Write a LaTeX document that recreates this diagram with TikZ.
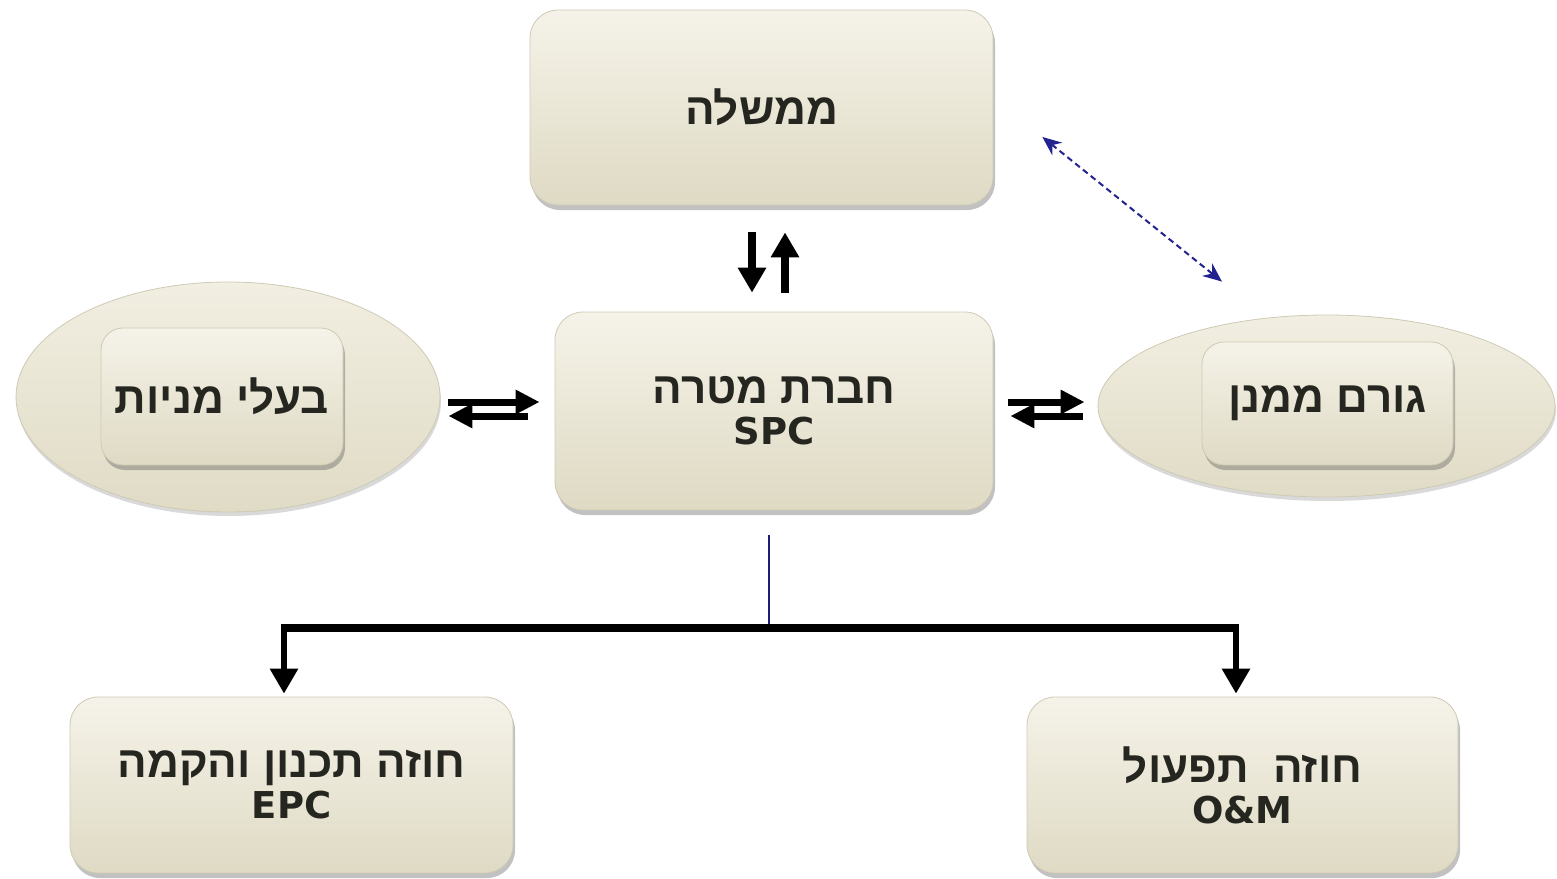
\documentclass[tikz,border=0pt]{standalone}
\usepackage{fontspec}
\setmainfont{DejaVu Sans}
\newfontfamily\hebfont[Script=Hebrew]{Liberation Sans}
\newfontfamily\latfont{DejaVu Sans}
\TeXXeTstate=1
\usetikzlibrary{arrows.meta,shadows,calc,shapes.geometric}
\newcommand\hebtxt[1]{{\hebfont\fontsize{44}{46}\selectfont\beginR #1\endR}}
\newcommand\lattxt[1]{{\latfont\fontsize{37}{42}\selectfont #1}}
\definecolor{boxtop}{HTML}{F5F3E9}
\definecolor{boxbot}{HTML}{DFDAC4}
\definecolor{ellfill}{HTML}{E9E5D2}
\definecolor{edge}{HTML}{CFCAB4}
\definecolor{txt}{HTML}{262620}
\definecolor{navyline}{HTML}{1C1C7A}
\definecolor{dashblue}{HTML}{23238F}
\tikzset{
  card/.style={rectangle, rounded corners=28pt, draw=edge, line width=0.8pt,
    top color=boxtop, bottom color=boxbot, text=txt, align=center,
    font=\bfseries\fontsize{37}{44}\selectfont,
    drop shadow={shadow xshift=2pt, shadow yshift=-5pt, opacity=0.35, fill=black!70}},
  oval/.style={ellipse, draw=edge, line width=0.8pt,
    top color=boxtop!70!ellfill, bottom color=boxbot!90!ellfill,
    drop shadow={shadow xshift=1pt, shadow yshift=-4pt, opacity=0.25, fill=black!60}},
  bigarrow/.style={line width=8pt, -{Triangle[width=27pt,length=25pt]}, black},
  midarrow/.style={line width=7pt, -{Triangle[width=23pt,length=24pt]}, black},
  linkdash/.style={dashblue, line width=2pt, dash pattern=on 6pt off 4pt,
    {Stealth[width=16pt,length=19pt]}-{Stealth[width=16pt,length=19pt]}},
}
\begin{document}
\begin{tikzpicture}[x=1pt,y=-1pt]
\useasboundingbox (0,0) rectangle (1557,878);
% top
\node[card, minimum width=463pt, minimum height=195pt] (gov) at (761.5,107.5) {\hebtxt{ממשלה}};
% SPC
\node[card, minimum width=438pt, minimum height=198pt] (spc) at (774,411) {\hebtxt{חברת מטרה}\\[-3pt]\lattxt{SPC}};
% left ellipse
\node[oval, minimum width=424pt, minimum height=230pt] (sh) at (228,397) {};
\node[card, minimum width=242pt, minimum height=137pt, rounded corners=22pt] (shbox) at (222,396.5) {\hebtxt{בעלי מניות}};
% right ellipse
\node[oval, minimum width=457pt, minimum height=182pt] (fin) at (1326.5,406) {};
\node[card, minimum width=251pt, minimum height=123pt, rounded corners=22pt] (finbox) at (1327.5,403.5) {\hebtxt{גורם ממנן}};
% bottom boxes
\node[card, minimum width=443pt, minimum height=176pt] (epc) at (291.5,785) {\hebtxt{חוזה תכנון והקמה}\\[-3pt]\lattxt{EPC}};
\node[card, minimum width=431pt, minimum height=176pt] (om) at (1242.5,785) {\hebtxt{חוזה\hspace{0.55em}תפעול}\\[-3pt]\lattxt{O\&M}};

% vertical pair
\draw[bigarrow] ($(gov.south)+(-9.5,27)$) -- ($(spc.north)+(-22,-19)$);
\draw[bigarrow] ($(spc.north)+(11,-19)$) -- ($(gov.south)+(23.5,27)$);
% left pair
\draw[midarrow] ($(sh.east)+(8,5)$) -- ($(spc.west)+(-15,-9)$);
\draw[midarrow] ($(spc.west)+(-27,5)$) -- ($(sh.east)+(8,19)$);
% right pair
\draw[midarrow] ($(spc.east)+(15,-9)$) -- ($(fin.west)+(-13,-4)$);
\draw[midarrow] ($(fin.west)+(-15,10)$) -- ($(spc.east)+(17,5)$);
% dashed link
\draw[linkdash] ($(gov.east)+(49,29.5)$) -- ($(fin.north)+(-104.5,-33)$);

% bus
\coordinate (stem) at (769,535);
\coordinate (busM) at (769,628);
\coordinate (busL) at (284,628);
\coordinate (busR) at (1236,628);
\draw[navyline, line width=1.3pt] (stem) -- (busM);
\draw[black, line width=8pt, line cap=butt] ($(busL)+(-3,0)$) -- ($(busR)+(3,0)$);
\draw[bigarrow, line width=6pt] (busL) -- ($(busL |- epc.north)+(0,-3)$);
\draw[bigarrow, line width=6pt] (busR) -- ($(busR |- om.north)+(0,-3)$);
\end{tikzpicture}
\end{document}
